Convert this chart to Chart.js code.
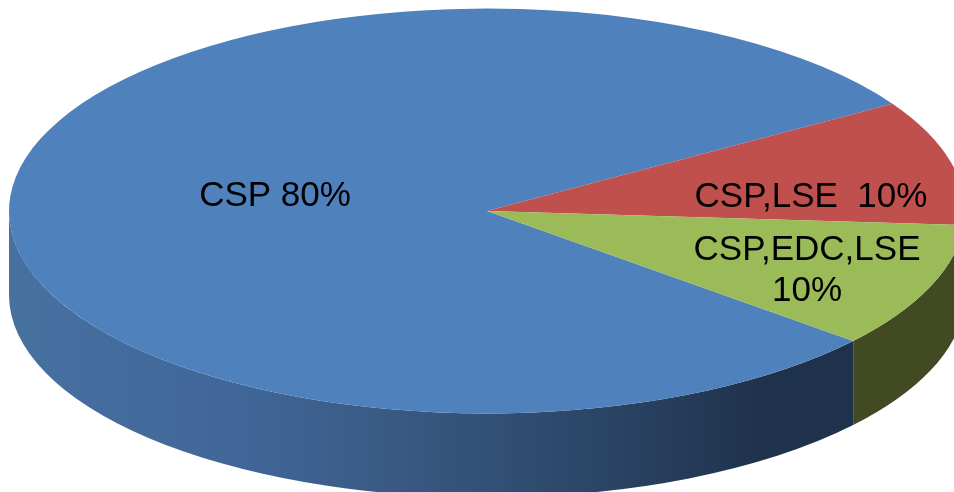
<!DOCTYPE html>
<html>
<head>
<meta charset="utf-8">
<style>
html,body{margin:0;padding:0;background:#fff;overflow:hidden}
#wrap{width:954px;height:492px;position:relative}
#c{filter:blur(0.5px)}
</style>
<script src="https://cdn.jsdelivr.net/npm/chart.js@4/dist/chart.umd.min.js"></script>
</head>
<body>
<div id="wrap"><canvas id="c" width="954" height="492"></canvas></div>
<script>
const categories = ["CSP", "CSP,LSE", "CSP,EDC,LSE"];
const shares = [80, 10, 10];
const sliceColors = ["#4f81bd", "#c0504d", "#9bbb59"];
const labelLines = [["CSP 80%"], ["CSP,LSE  10%"], ["CSP,EDC,LSE", "10%"]];

const TILT = 0.4235, DEPTH = 84, FONT_SIZE = 35;
const labelAnchors = [[275, 196], [811, 197], [807, 271]];

const pie3d = {
  id: 'pie3d',
  beforeDatasetsDraw(chart) {
    const ctx = chart.ctx, arcs = chart.getDatasetMeta(0).data;
    const cx = arcs[0].x, cy = arcs[0].y, r = arcs[0].outerRadius;
    const ry = r * TILT;
    const walls = [
      [[0, '#47719f'], [0.1, '#446d9e'], [0.3, '#3f6596'], [0.45, '#3a5a84'], [0.7, '#2b4566'], [0.9, '#1f324b'], [1, '#1f324b']],
      null,
      [[0, '#414a22'], [1, '#414a22']]
    ];
    arcs.forEach((a, i) => {
      if (!walls[i]) return;
      let s = a.startAngle, e = a.endAngle;
      const n = Math.floor(s / (2 * Math.PI));
      s -= n * 2 * Math.PI; e -= n * 2 * Math.PI;
      s = Math.max(s, 0); e = Math.min(e, Math.PI);
      if (e <= s) return;
      const grad = ctx.createLinearGradient(cx - r, 0, cx + 364, 0);
      walls[i].forEach(([p, c]) => grad.addColorStop(p, c));
      ctx.save();
      ctx.fillStyle = grad;
      ctx.beginPath();
      ctx.ellipse(cx, cy, r, ry, 0, s, e, false);
      ctx.ellipse(cx, cy + DEPTH, r, ry, 0, e, s, true);
      ctx.closePath();
      ctx.fill();
      ctx.restore();
    });
    ctx.save();
    ctx.translate(cx, cy);
    ctx.scale(1, TILT);
    ctx.translate(-cx, -cy);
  },
  afterDatasetsDraw(chart) {
    const ctx = chart.ctx;
    ctx.restore();
    ctx.save();
    ctx.fillStyle = '#000';
    ctx.font = FONT_SIZE + 'px "Liberation Sans", Arial, sans-serif';
    ctx.textAlign = 'center';
    ctx.textBaseline = 'middle';
    labelLines.forEach((lines, i) => {
      const [x, y] = labelAnchors[i];
      lines.forEach((t, j) => {
        ctx.fillText(t, x, y + (j - (lines.length - 1) / 2) * 41);
      });
    });
    ctx.restore();
  }
};

new Chart(document.getElementById('c'), {
  type: 'pie',
  data: {
    labels: categories,
    datasets: [{ data: shares, backgroundColor: sliceColors, borderWidth: 0, hoverOffset: 0 }]
  },
  options: {
    responsive: false,
    animation: false,
    rotation: 130,
    radius: 478,
    layout: { padding: { left: 20, bottom: 70 } },
    plugins: { legend: { display: false }, tooltip: { enabled: false }, title: { display: false } },
    events: []
  },
  plugins: [pie3d]
});
</script>
</body>
</html>
